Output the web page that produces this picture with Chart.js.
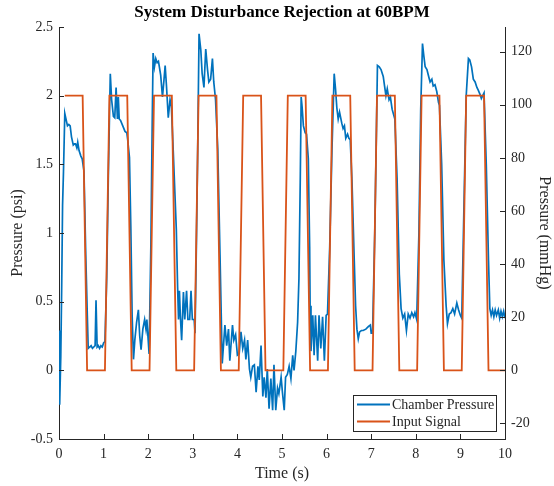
<!DOCTYPE html>
<html>
<head>
<meta charset="utf-8">
<script src="https://cdn.jsdelivr.net/npm/chart.js@4/dist/chart.umd.min.js"></script>
<style>
html,body{margin:0;padding:0;background:#fff;}
#wrap{width:554px;height:486px;}
</style>
</head>
<body>
<div id="wrap"><canvas id="c" width="554" height="486"></canvas></div>
<script>
// ---- Data ----
const chartTitle = 'System Disturbance Rejection at 60BPM';
const seriesNames = ['Chamber Pressure', 'Input Signal'];

const pressureTime = [
  0.00,0.015,0.04,0.06,0.08,0.10,0.13,0.15,0.19,0.22,0.25,0.28,0.32,0.35,0.37,0.40,0.42,0.45,0.49,0.52,
  0.56,0.60,0.635,0.655,
  0.69,0.72,0.75,0.78,0.81,0.83,0.855,0.88,0.91,0.94,0.97,1.00,1.03,
  1.07,1.105,1.15,1.18,1.22,1.25,1.28,1.31,1.33,1.35,1.38,1.43,1.48,1.52,1.54,
  1.58,1.61,1.64,
  1.67,1.70,1.74,1.78,1.81,1.84,1.88,1.92,1.95,1.97,2.00,2.02,
  2.06,2.09,2.11,2.14,2.17,2.20,2.23,2.28,2.32,2.35,2.38,2.41,2.45,2.49,2.52,
  2.56,2.63,2.66,
  2.68,2.70,2.72,2.75,2.79,2.82,2.86,2.89,2.93,2.96,2.99,3.03,3.05,
  3.08,3.11,3.14,3.18,3.21,3.25,3.29,3.33,3.36,3.40,3.44,3.47,3.51,
  3.56,3.61,3.66,
  3.72,3.76,3.80,3.83,3.89,3.92,3.96,4.00,4.04,4.08,4.12,4.16,4.19,4.23,4.27,4.30,4.34,4.38,4.42,4.46,
  4.49,4.53,4.57,4.60,4.64,4.67,4.71,4.75,4.79,4.82,4.86,4.90,4.93,4.98,5.01,5.05,5.08,5.12,5.16,5.20,
  5.24,5.27,5.31,5.35,5.38,
  5.41,5.43,5.45,5.48,5.52,5.55,
  5.59,5.62,5.63,
  5.65,5.69,5.72,5.75,5.80,5.83,5.87,5.91,5.95,5.99,6.02,
  6.07,6.12,6.17,6.20,6.23,6.26,6.29,6.34,6.37,6.40,6.43,6.47,6.50,6.53,
  6.57,6.62,6.65,
  6.68,6.71,6.74,6.78,6.82,6.88,6.94,6.98,7.00,7.03,
  7.08,7.12,7.14,7.18,7.22,7.27,7.30,7.33,7.36,7.40,7.43,7.47,7.53,
  7.58,7.63,7.67,
  7.71,7.75,7.79,7.83,7.87,7.91,7.95,7.98,8.02,
  8.07,8.11,8.15,8.18,8.21,8.25,8.28,8.32,8.36,8.39,8.43,8.47,8.51,8.53,
  8.58,8.63,8.68,
  8.71,8.75,8.79,8.83,8.87,8.92,8.96,9.00,9.03,
  9.08,9.13,9.18,9.21,9.25,9.29,9.33,9.37,9.40,9.44,9.47,9.50,9.53,
  9.58,9.63,9.66,
  9.69,9.72,9.75,9.78,9.81,9.85,9.88,9.91,9.94,9.97,10.00
];
const pressurePsi = [
  0.29,-0.25,0.10,0.60,1.20,1.44,1.87,1.84,1.78,1.79,1.78,1.70,1.64,1.65,1.65,1.62,1.66,1.60,1.56,1.54,
  1.45,0.84,0.40,0.16,
  0.17,0.18,0.16,0.17,0.18,0.51,0.17,0.18,0.16,0.18,0.17,0.20,0.21,
  0.67,1.39,2.16,1.97,1.85,1.84,2.06,1.83,1.99,1.83,1.82,1.78,1.74,1.73,1.68,
  1.55,1.05,0.40,
  0.08,0.22,0.35,0.44,0.25,0.15,0.30,0.37,0.30,0.37,0.22,0.12,
  0.91,1.80,2.31,2.21,2.27,2.24,2.25,2.15,1.99,2.10,2.22,2.07,1.84,1.97,1.92,
  1.61,1.03,0.60,
  0.37,0.58,0.40,0.22,0.57,0.37,0.58,0.37,0.37,0.58,0.37,0.37,0.27,
  0.90,1.61,2.45,2.33,2.16,2.06,2.34,2.19,2.10,2.12,2.27,2.10,1.97,
  1.61,0.84,0.05,
  0.33,0.18,0.30,0.07,0.33,0.22,0.26,0.11,0.12,0.28,0.16,0.22,0.08,0.22,0.01,-0.05,0.03,0.04,-0.16,0.03,
  -0.07,0.18,-0.19,-0.05,-0.20,0.01,-0.28,-0.06,-0.29,0.04,-0.29,-0.13,-0.17,-0.05,-0.16,-0.29,-0.05,-0.03,0.03,-0.06,
  0.11,0.00,0.14,0.35,0.67,
  1.40,1.99,1.92,1.78,1.73,1.72,
  1.54,0.90,0.47,
  0.14,0.40,0.11,0.40,0.07,0.40,0.16,0.39,0.07,0.40,0.41,
  0.90,1.60,2.16,2.05,1.91,1.83,1.88,1.80,1.76,1.78,1.69,1.72,1.69,1.68,
  1.37,0.80,0.47,
  0.30,0.23,0.28,0.29,0.29,0.30,0.32,0.33,0.27,0.27,
  1.00,1.80,2.22,2.21,2.19,2.14,2.07,2.00,2.05,1.97,1.99,1.90,1.83,
  1.40,0.70,0.45,
  0.38,0.41,0.29,0.41,0.38,0.42,0.39,0.42,0.37,
  1.00,1.90,2.38,2.29,2.21,2.19,2.15,2.10,2.12,2.07,2.08,2.03,1.95,1.93,
  1.50,0.80,0.47,
  0.34,0.41,0.42,0.45,0.41,0.49,0.44,0.40,0.38,
  1.20,2.00,2.27,2.26,2.21,2.12,2.10,2.06,2.04,2.01,1.98,2.00,2.02,
  1.50,0.80,0.45,
  0.40,0.44,0.39,0.44,0.40,0.44,0.38,0.43,0.39,0.43,0.38
];

const inputTime = [
  0.13,0.53,0.63,1.03,1.13,1.53,1.63,2.03,2.13,2.53,2.63,3.03,3.13,3.53,3.63,4.03,
  4.13,4.53,4.63,5.03,5.13,5.53,5.63,6.03,6.13,6.53,6.63,7.03,7.13,7.53,7.63,8.03,
  8.13,8.53,8.63,9.03,9.13,9.53,9.63,10.00
];
const inputPsi = [
  2,2,0,0,2,2,0,0,2,2,0,0,2,2,0,0,
  2,2,0,0,2,2,0,0,2,2,0,0,2,2,0,0,
  2,2,0,0,2,2,0,0
];

const xTicks = [0,1,2,3,4,5,6,7,8,9,10];
const leftTicks = [-0.5,0,0.5,1,1.5,2,2.5];
const leftTickLabels = ['-0.5','0','0.5','1','1.5','2','2.5'];
const rightTicks = [-20,0,20,40,60,80,100,120];
const rightTickLabels = ['-20','0','20','40','60','80','100','120'];
const psiToMmHg = 51.715;
const xTitle = 'Time (s)';
const yLeftTitle = 'Pressure (psi)';
const yRightTitle = 'Pressure (mmHg)';

// ---- Build chart ----
const FONT = "'Liberation Serif', 'Times New Roman', serif";
const AX = '#262626';
const BLUE = '#0072BD';
const ORANGE = '#D95319';

const toPoints = (xs, ys) => xs.map((x, i) => ({x: x, y: ys[i]}));

const inwardTicks = {
  id: 'inwardTicks',
  afterDraw(chart) {
    const ctx = chart.ctx;
    const a = chart.chartArea;
    const L = 5;
    ctx.save();
    ctx.strokeStyle = AX;
    ctx.lineWidth = 1;
    ctx.beginPath();
    chart.scales.x.ticks.forEach(t => {
      const p = Math.round(chart.scales.x.getPixelForValue(t.value)) + 0.5;
      ctx.moveTo(p, a.bottom); ctx.lineTo(p, a.bottom - L);
    });
    chart.scales.y.ticks.forEach(t => {
      const p = Math.round(chart.scales.y.getPixelForValue(t.value)) + 0.5;
      ctx.moveTo(a.left, p); ctx.lineTo(a.left + L, p);
    });
    chart.scales.y2.ticks.forEach(t => {
      const p = Math.round(chart.scales.y2.getPixelForValue(t.value)) + 0.5;
      ctx.moveTo(a.right, p); ctx.lineTo(a.right - L, p);
    });
    ctx.stroke();
    ctx.restore();
  }
};

const areaTitle = {
  id: 'areaTitle',
  afterDraw(chart) {
    const ctx = chart.ctx;
    const a = chart.chartArea;
    ctx.save();
    ctx.font = "bold 17px " + FONT;
    ctx.fillStyle = '#000';
    ctx.textAlign = 'center';
    ctx.textBaseline = 'middle';
    ctx.fillText(chartTitle, (a.left + a.right) / 2, 13);
    ctx.restore();
  }
};

const boxLegend = {
  id: 'boxLegend',
  afterDraw(chart) {
    const ctx = chart.ctx;
    const bx = 353.5, by = 395.5, bw = 143, bh = 36;
    ctx.save();
    ctx.fillStyle = '#fff';
    ctx.fillRect(bx, by, bw, bh);
    ctx.strokeStyle = AX;
    ctx.lineWidth = 1;
    ctx.strokeRect(bx, by, bw, bh);
    const colors = [BLUE, ORANGE];
    const rows = [404.5, 421.5];
    ctx.font = "14px " + FONT;
    ctx.textBaseline = 'middle';
    ctx.textAlign = 'left';
    seriesNames.forEach((n, i) => {
      ctx.strokeStyle = colors[i];
      ctx.lineWidth = 1.8;
      ctx.beginPath();
      ctx.moveTo(357, rows[i]);
      ctx.lineTo(390, rows[i]);
      ctx.stroke();
      ctx.fillStyle = AX;
      ctx.fillText(n, 392, rows[i] + 1);
    });
    ctx.restore();
  }
};

new Chart(document.getElementById('c'), {
  type: 'scatter',
  data: {
    datasets: [
      {
        label: seriesNames[0],
        data: toPoints(pressureTime, pressurePsi),
        showLine: true,
        borderColor: BLUE,
        backgroundColor: BLUE,
        borderWidth: 1.7,
        pointRadius: 0,
        tension: 0,
        order: 1,
        yAxisID: 'y'
      },
      {
        label: seriesNames[1],
        data: toPoints(inputTime, inputPsi),
        showLine: true,
        borderColor: ORANGE,
        backgroundColor: ORANGE,
        borderWidth: 1.8,
        pointRadius: 0,
        tension: 0,
        order: 0,
        yAxisID: 'y'
      }
    ]
  },
  options: {
    responsive: false,
    devicePixelRatio: 1,
    animation: false,
    layout: {padding: {top: 27, left: 0, right: 0, bottom: 0}},
    plugins: {
      legend: {display: false},
      tooltip: {enabled: false},
      title: {display: false}
    },
    scales: {
      x: {
        type: 'linear',
        min: 0, max: 10,
        afterBuildTicks: s => { s.ticks = xTicks.map(v => ({value: v})); },
        ticks: {color: AX, font: {family: FONT, size: 14}, padding: 7, maxRotation: 0,
                callback: v => String(v)},
        grid: {display: false, drawTicks: false},
        border: {display: true, color: AX, width: 1},
        title: {display: true, text: xTitle, color: AX, font: {family: FONT, size: 16}, padding: {top: 0, bottom: 3}},
        afterFit: s => { s.height = 47; }
      },
      y: {
        type: 'linear',
        position: 'left',
        min: -0.5, max: 2.5,
        afterBuildTicks: s => { s.ticks = leftTicks.map(v => ({value: v})); },
        ticks: {color: AX, font: {family: FONT, size: 14}, padding: 6,
                callback: (v) => leftTickLabels[leftTicks.indexOf(v)]},
        grid: {display: false, drawTicks: false},
        border: {display: true, color: AX, width: 1},
        title: {display: true, text: yLeftTitle, color: AX, font: {family: FONT, size: 16}, padding: {top: 8, bottom: 0}},
        afterFit: s => { s.width = 59; }
      },
      y2: {
        type: 'linear',
        position: 'right',
        min: -0.5 * psiToMmHg, max: 2.5 * psiToMmHg,
        afterBuildTicks: s => { s.ticks = rightTicks.map(v => ({value: v})); },
        ticks: {color: AX, font: {family: FONT, size: 14}, padding: 6,
                callback: (v) => rightTickLabels[rightTicks.indexOf(v)]},
        grid: {display: false, drawTicks: false},
        border: {display: true, color: AX, width: 1},
        title: {display: true, text: yRightTitle, color: AX, font: {family: FONT, size: 16}, padding: {top: 0, bottom: 0}},
        afterFit: s => { s.width = 49; }
      }
    }
  },
  plugins: [inwardTicks, areaTitle, boxLegend]
});
</script>
</body>
</html>
